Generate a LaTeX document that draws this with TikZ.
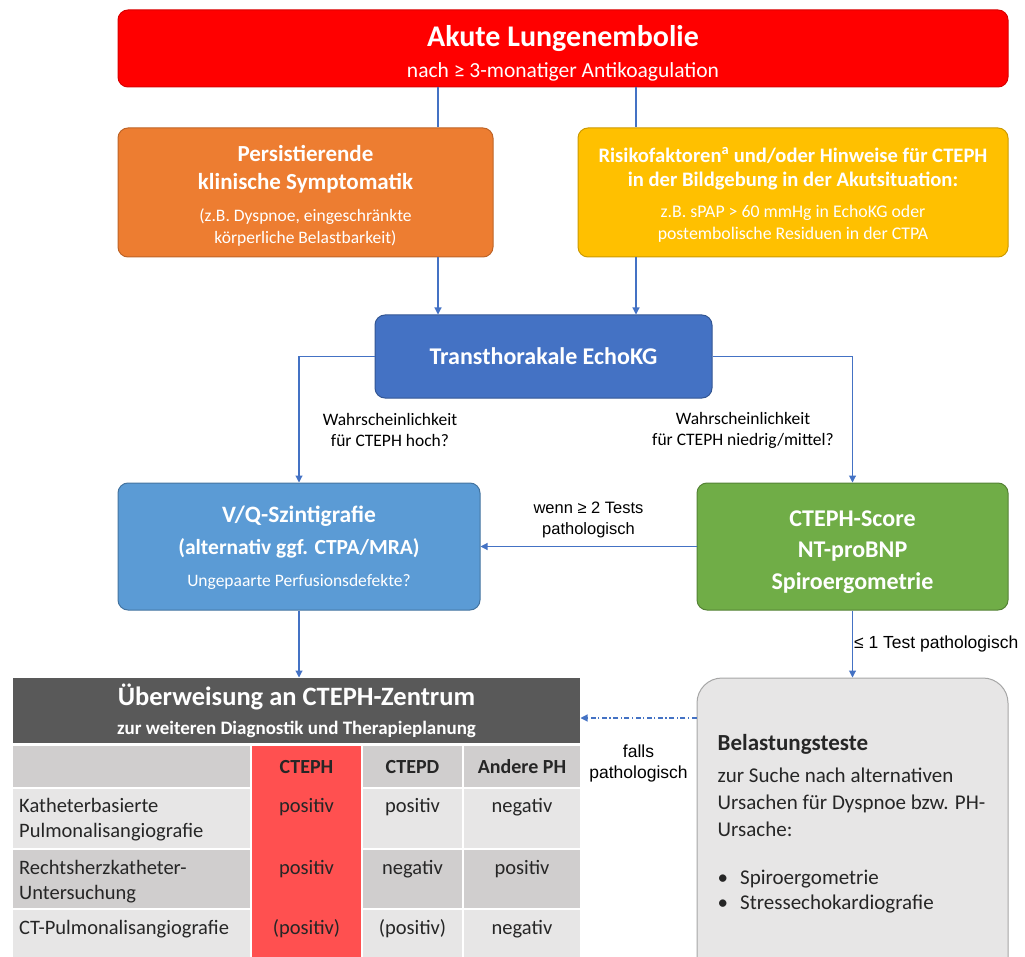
\documentclass[tikz,border=0pt]{standalone}
\usepackage{fontspec}
\setmainfont{Carlito}
\newfontfamily\arialfont{Liberation Sans}
\usepackage{xcolor}
\usepackage{tikz}
\usetikzlibrary{arrows.meta,positioning,calc}

\definecolor{akutRed}{HTML}{FF0000}
\definecolor{symOrange}{HTML}{ED7D31}
\definecolor{riskYellow}{HTML}{FFC000}
\definecolor{echoBlue}{HTML}{4472C4}
\definecolor{vqBlue}{HTML}{5B9BD5}
\definecolor{scoreGreen}{HTML}{70AD47}
\definecolor{zentrumGray}{HTML}{595959}
\definecolor{cellLight}{HTML}{E7E6E6}
\definecolor{cellDark}{HTML}{D0CECE}
\definecolor{ctephRed}{HTML}{FF5050}
\definecolor{connBlue}{HTML}{4472C4}
\newcommand{\fs}[2]{\fontsize{#1}{#2}\selectfont}
\newcommand{\pushdown}[1]{\rule{0pt}{#1}}

\begin{document}
\begin{tikzpicture}[
  x=1pt, y=-1pt,
  box/.style={draw, line width=1pt, rounded corners=10pt, align=center, text=white, inner sep=0pt},
  conn/.style={draw=connBlue, line width=1.1pt},
  arrow/.style={conn, -{Triangle[length=7pt, width=7pt]}},
  label/.style={font=\fs{17.5}{21}, align=center, inner sep=0pt},
  sflabel/.style={font=\arialfont\fs{16.5}{21}, align=center, inner sep=0pt},
  celltxt/.style={font=\fs{20.5}{25}, inner sep=0pt, text=black!85},
  cellhead/.style={font=\bfseries\fs{20}{25}, inner sep=0pt, text=black!85},
]
\useasboundingbox (0,0) rectangle (1025,957);
\clip (0,0) rectangle (1025,957);

% Nodes
\node[box, fill=akutRed, draw=akutRed!85!black, minimum width=890pt, minimum height=77pt, font=\fs{21.5}{31}] (akut) at (563,48.5)
  {\pushdown{30pt}{\bfseries\fs{30}{31}Akute Lungenembolie}\\nach ≥ 3-monatiger Antikoagulation};
\node[box, fill=symOrange, draw=symOrange!80!black, minimum width=375pt, minimum height=129pt, font=\fs{17.5}{22}] (sympt) at (305.5,192.5)
  {\pushdown{23pt}{\bfseries\fs{23}{28}Persistierende}\\[6pt]{\bfseries\fs{23}{28}klinische Symptomatik}\\[10pt](z.B. Dyspnoe, eingeschränkte\\körperliche Belastbarkeit)};
\node[box, fill=riskYellow, draw=riskYellow!80!black, minimum width=430pt, minimum height=129pt, font=\fs{17.8}{22}] (risiko) at (793,192.5)
  {\pushdown{19pt}{\bfseries\fs{20.6}{24}Risikofaktoren\textsuperscript{a} und/oder Hinweise für CTEPH}\\[2pt]{\bfseries\fs{20.6}{24}in der Bildgebung in der Akutsituation:}\\[9pt]z.B. sPAP > 60 mmHg in EchoKG oder\\postembolische Residuen in der CTPA};
\node[box, fill=echoBlue, draw=echoBlue!75!black, minimum width=337pt, minimum height=83pt, font=\bfseries\fs{24}{29}] (echo) at (543.5,356.5) {Transthorakale EchoKG};
\node[box, fill=vqBlue, draw=vqBlue!75!black, minimum width=362pt, minimum height=127pt, font=\fs{17.5}{32}] (vq) at (299,546.5)
  {\pushdown{20pt}{\bfseries\fs{23.5}{32}V/Q-Szintigrafie}\\{\bfseries\fs{21.5}{32}(alternativ ggf. CTPA/MRA)}\\Ungepaarte Perfusionsdefekte?};
\node[box, fill=scoreGreen, draw=scoreGreen!75!black, minimum width=311pt, minimum height=127pt, font=\bfseries\fs{24}{31.5}] (score) at (852.5,546.5)
  {\pushdown{27pt}CTEPH-Score\\NT-proBNP\\Spiroergometrie};
\node[box, rounded corners=0pt, draw=none, fill=zentrumGray, minimum width=567pt, minimum height=65pt, font=\bfseries\fs{19}{29}] (zentrum) at (296.5,710.5)
  {{\fs{26.5}{29}Überweisung an CTEPH-Zentrum}\\zur weiteren Diagnostik und Therapieplanung};
\node[box, rounded corners=25pt, fill=cellLight, draw=black!35, minimum width=311pt, minimum height=330pt] (belast) at (852.5,843) {};
\node[anchor=north west, inner sep=0pt, align=left, font=\fs{21}{27}, text=black!85] (belasttxt) at ([xshift=21pt, yshift=-57pt]belast.north west)
  {{\bfseries\fs{23}{27}Belastungsteste}\\[5pt]zur Suche nach alternativen\\Ursachen für Dyspnoe bzw. PH-\\Ursache:\\[21pt]\textbullet\hspace{12pt}Spiroergometrie\\[-2pt]\textbullet\hspace{12pt}Stressechokardiografie};

% Table
\foreach \ya/\yb/\shade in {746/787/cellDark, 789/848/cellLight, 850/908/cellDark, 910/975/cellLight}
  \foreach \xa/\xb in {13/250, 363/462, 464/580}
    \fill[\shade] (\xa,\ya) rectangle (\xb,\yb);
\fill[ctephRed] (252,746) rectangle (361,975);

\foreach \name/\x/\txt in {hdCteph/306.5/CTEPH, hdCtepd/412.5/CTEPD, hdAndere/522/Andere PH}
  \node[cellhead, anchor=base] (\name) at (\x,773) {\txt};
\foreach \name/\x/\y/\txt in {kaA/306.5/812/positiv, kaB/412.5/812/positiv, kaC/522/812/negativ,
                              rhA/306.5/874/positiv, rhB/412.5/874/negativ, rhC/522/874/positiv,
                              ctA/306.5/934/{(positiv)}, ctB/412.5/934/{(positiv)}, ctC/522/934/negativ}
  \node[celltxt, anchor=base] (\name) at (\x,\y) {\txt};
\node[celltxt, anchor=north west, align=left] (kaRow) at (19,798) {Katheterbasierte\\Pulmonalisangiografie};
\node[celltxt, anchor=north west, align=left] (rhRow) at (19,860) {Rechtsherzkatheter-\\Untersuchung};
\node[celltxt, anchor=base west] (ctRow) at (19,934) {CT-Pulmonalisangiografie};

% Arrows
\coordinate (lx) at (438,0);
\coordinate (rx) at (636,0);
\coordinate (dashy) at (0,718);
\draw[conn] (akut.south -| lx) -- (sympt.north -| lx);
\draw[conn] (akut.south -| rx) -- (risiko.north -| rx);
\draw[arrow] (sympt.south -| lx) -- (echo.north -| lx);
\draw[arrow] (risiko.south -| rx) -- (echo.north -| rx);
\draw[arrow] (echo.west) -| (vq.north);
\draw[arrow] (echo.east) -| (score.north);
\draw[arrow] (score.west) -- (vq.east) node[midway, above=8pt, sflabel] (lblWenn) {wenn ≥ 2 Tests\\pathologisch};
\draw[arrow] (vq.south) -- (vq.south |- zentrum.north);
\draw[arrow] (score.south) -- (belast.north) node[midway, right=1pt, sflabel, font=\arialfont\fs{17.5}{21}] (lblLeq) {≤ 1 Test pathologisch};
\draw[arrow, dash pattern=on 5pt off 2.5pt on 1.2pt off 2.5pt] (belast.west |- dashy) -- (zentrum.east |- dashy) node[midway, below=26pt, sflabel, font=\arialfont\fs{17.5}{21}] (lblFalls) {falls\\pathologisch};

% Side labels
\node[label] (lblHoch) at (390,430) {Wahrscheinlichkeit\\für CTEPH hoch?};
\node[label] (lblNiedrig) at (743,430) {Wahrscheinlichkeit\\für CTEPH niedrig/mittel?};

\end{tikzpicture}
\end{document}
